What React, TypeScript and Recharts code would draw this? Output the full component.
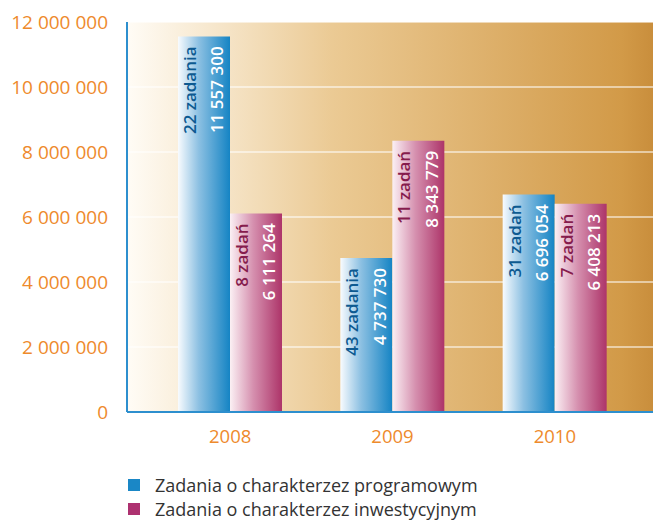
import { BarChart, Bar, XAxis, YAxis, CartesianGrid, LabelList } from 'recharts';

const years = ['2008', '2009', '2010'];
const programowe = [11557300, 4737730, 6696054];
const inwestycyjne = [6111264, 8343779, 6408213];
const programoweZadania = ['22 zadania', '43 zadania', '31 zadań'];
const inwestycyjneZadania = ['8 zadań', '11 zadań', '7 zadań'];
const yTicks = [0, 2000000, 4000000, 6000000, 8000000, 10000000, 12000000];

const data = years.map((year, i) => ({
    year,
    prog: programowe[i],
    inw: inwestycyjne[i],
}));

const FONT = '"Open Sans", "Noto Sans", sans-serif';
const ORANGE = '#ee8a2c';

const fmt = (v: number) => String(v).replace(/\B(?=(\d{3})+(?!\d))/g, ' ');

const makeLabel = (counts: string[], countColor: string) => (props: any) => {
    const { x, y, width, index, value } = props;
    const top = y + 10;
    const cx1 = x + width * 0.22;
    const cx2 = x + width * 0.75;
    return (
        <g>
            <text
                x={cx1}
                y={top}
                transform={`rotate(-90 ${cx1} ${top})`}
                textAnchor="end"
                dominantBaseline="central"
                fill={countColor}
                fontSize={17}
                fontWeight={600}
                fontFamily={FONT}
            >
                {counts[index]}
            </text>
            <text
                x={cx2}
                y={top}
                transform={`rotate(-90 ${cx2} ${top})`}
                textAnchor="end"
                dominantBaseline="central"
                fill="#ffffff"
                fontSize={17}
                fontWeight={600}
                fontFamily={FONT}
            >
                {fmt(value)}
            </text>
        </g>
    );
};

const legendItems = [
    { label: 'Zadania o charakterzez programowym', color: '#1a87c6' },
    { label: 'Zadania o charakterzez inwestycyjnym', color: '#ad3170' },
];

export default function App() {
    return (
        <div style={{ width: 653, height: 521, position: 'relative', overflow: 'hidden' }}>
            <style>{'body{margin:0;background:#fff}'}</style>
            <BarChart
                width={653}
                height={521}
                data={data}
                margin={{ top: 22, right: 0, bottom: 0, left: 0 }}
                barGap={0}
                barSize={52}
            >
                <defs>
                    <linearGradient id="bgGrad" x1="0" y1="0" x2="1" y2="0">
                        <stop offset="0%" stopColor="#fffcf6" />
                        <stop offset="39%" stopColor="#ebca94" />
                        <stop offset="94%" stopColor="#d29a48" />
                        <stop offset="100%" stopColor="#c98e3c" />
                    </linearGradient>
                    <linearGradient id="blueGrad" x1="0" y1="0" x2="1" y2="0">
                        <stop offset="0%" stopColor="#f8fbfe" />
                        <stop offset="40%" stopColor="#8cc0e2" />
                        <stop offset="100%" stopColor="#1584c4" />
                    </linearGradient>
                    <linearGradient id="pinkGrad" x1="0" y1="0" x2="1" y2="0">
                        <stop offset="0%" stopColor="#fbf0f4" />
                        <stop offset="45%" stopColor="#d58fae" />
                        <stop offset="100%" stopColor="#ad3469" />
                    </linearGradient>
                </defs>
                <CartesianGrid
                    vertical={false}
                    stroke="#ffffff"
                    strokeOpacity={0.7}
                    strokeWidth={1.5}
                    fill="url(#bgGrad)"
                    fillOpacity={1}
                />
                <XAxis
                    dataKey="year"
                    height={109}
                    padding={{ left: 22, right: 17 }}
                    axisLine={{ stroke: '#2d8fce', strokeWidth: 2 }}
                    tickLine={false}
                    tickSize={0}
                    tickMargin={18}
                    tick={{ fill: ORANGE, fontSize: 18.5, fontFamily: FONT }}
                />
                <YAxis
                    width={127}
                    domain={[0, 12000000]}
                    ticks={yTicks}
                    tickFormatter={fmt}
                    axisLine={{ stroke: '#2d8fce', strokeWidth: 2 }}
                    tickLine={false}
                    tickSize={0}
                    tickMargin={19}
                    tick={{ fill: ORANGE, fontSize: 19, fontFamily: FONT }}
                />
                <Bar dataKey="prog" fill="url(#blueGrad)" isAnimationActive={false}>
                    <LabelList dataKey="prog" content={makeLabel(programoweZadania, '#0d5a91')} />
                </Bar>
                <Bar dataKey="inw" fill="url(#pinkGrad)" isAnimationActive={false}>
                    <LabelList dataKey="inw" content={makeLabel(inwestycyjneZadania, '#861c4d')} />
                </Bar>
            </BarChart>
            <div
                style={{
                    position: 'absolute',
                    left: 128,
                    top: 473,
                    fontFamily: FONT,
                    fontSize: 18,
                    color: '#333333',
                    lineHeight: '24px',
                }}
            >
                {legendItems.map((it) => (
                    <div key={it.label} style={{ display: 'flex', alignItems: 'center', height: 24 }}>
                        <span
                            style={{
                                width: 12,
                                height: 12,
                                background: it.color,
                                display: 'inline-block',
                                marginRight: 15,
                            }}
                        />
                        <span>{it.label}</span>
                    </div>
                ))}
            </div>
        </div>
    );
}
